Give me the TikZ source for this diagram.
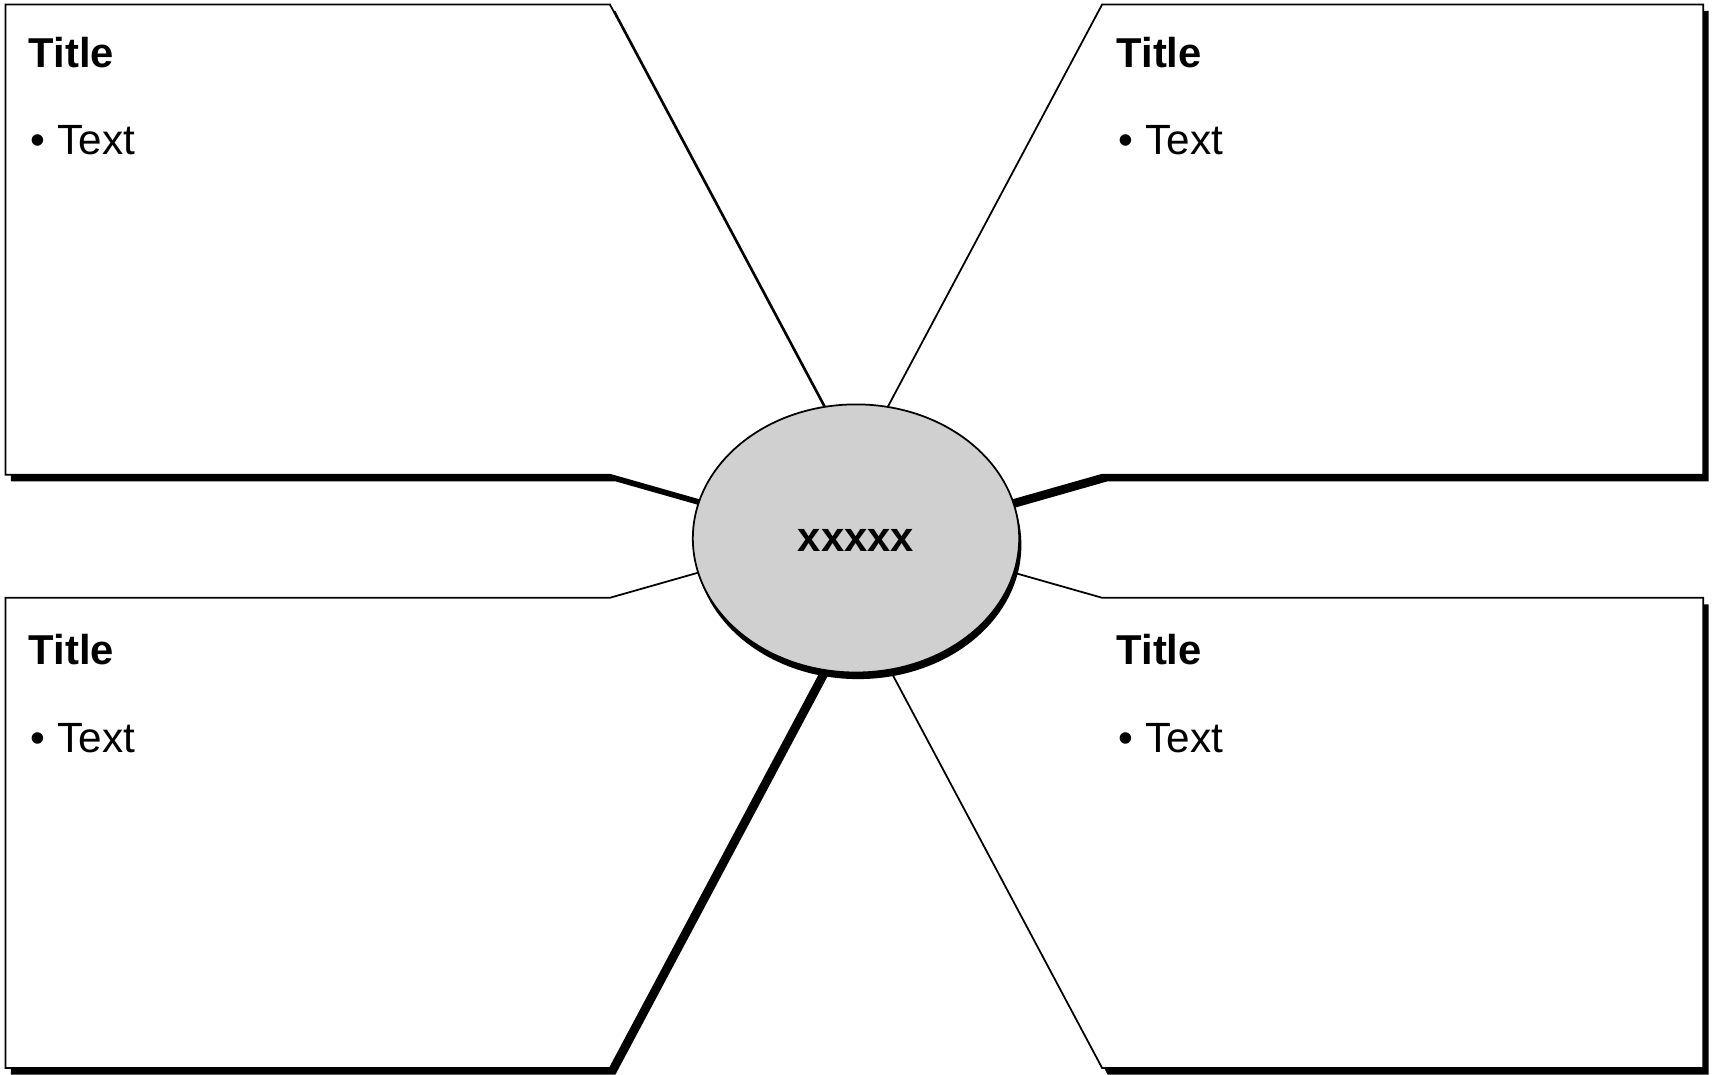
\documentclass[tikz,border=0pt]{standalone}
\usepackage{fontspec}
\setmainfont{Liberation Sans}
\usetikzlibrary{shapes.geometric}
\definecolor{hubgray}{RGB}{208,208,208}
\tikzset{
  panel/.style={draw=black, fill=white, line width=1.6pt, line join=miter},
  panelshadow/.style={fill=black},
  ttl/.style={anchor=base west, inner sep=0pt, font=\fontsize{38}{40}\selectfont\bfseries},
  txt/.style={anchor=base west, inner sep=0pt, font=\fontsize{38.5}{40}\selectfont},
  hubstyle/.style={ellipse, draw=black, fill=hubgray, line width=1.6pt, minimum width=297pt, minimum height=244pt, inner sep=0pt},
  hubtext/.style={inner sep=0pt, font=\fontsize{38}{40}\selectfont\bfseries}
}
\begin{document}
\begin{tikzpicture}[x=1pt,y=-1pt]
\useasboundingbox (0,0) rectangle (1568,978);
% shadows of the four panels
\begin{scope}[shift={(5,6)}]
  \fill[panelshadow] (5,4) -- (555,4) -- (823.7,508.4) -- (555,432) -- (5,432) -- cycle;
  \fill[panelshadow] (1550,4) -- (1003,4) -- (734.3,508.4) -- (1003,432) -- (1550,432) -- cycle;
  \fill[panelshadow] (5,972) -- (555,972) -- (823.7,467.6) -- (555,544) -- (5,544) -- cycle;
  \fill[panelshadow] (1550,972) -- (1003,972) -- (734.3,467.6) -- (1003,544) -- (1550,544) -- cycle;
\end{scope}
% panels
\draw[panel] (5,4) -- (555,4) -- (823.7,508.4) -- (555,432) -- (5,432) -- cycle;
\draw[panel] (1550,4) -- (1003,4) -- (734.3,508.4) -- (1003,432) -- (1550,432) -- cycle;
\draw[panel] (5,972) -- (555,972) -- (823.7,467.6) -- (555,544) -- (5,544) -- cycle;
\draw[panel] (1550,972) -- (1003,972) -- (734.3,467.6) -- (1003,544) -- (1550,544) -- cycle;
% texts
\node[ttl] (t1) at (26,61) {Title};
\node[txt] (b1) at (28,141) {• Text};
\node[ttl] (t2) at (1016,61) {Title};
\node[txt] (b2) at (1018,141) {• Text};
\node[ttl] (t3) at (26,605) {Title};
\node[txt] (b3) at (28,685) {• Text};
\node[ttl] (t4) at (1016,605) {Title};
\node[txt] (b4) at (1018,685) {• Text};
% hub
\fill[black] (781,496) ellipse [x radius=148.5, y radius=122];
\node[hubstyle] (hub) at (779,490) {};
\node[hubtext] (hubt) at (779,492) {xxxxx};
\end{tikzpicture}
\end{document}
